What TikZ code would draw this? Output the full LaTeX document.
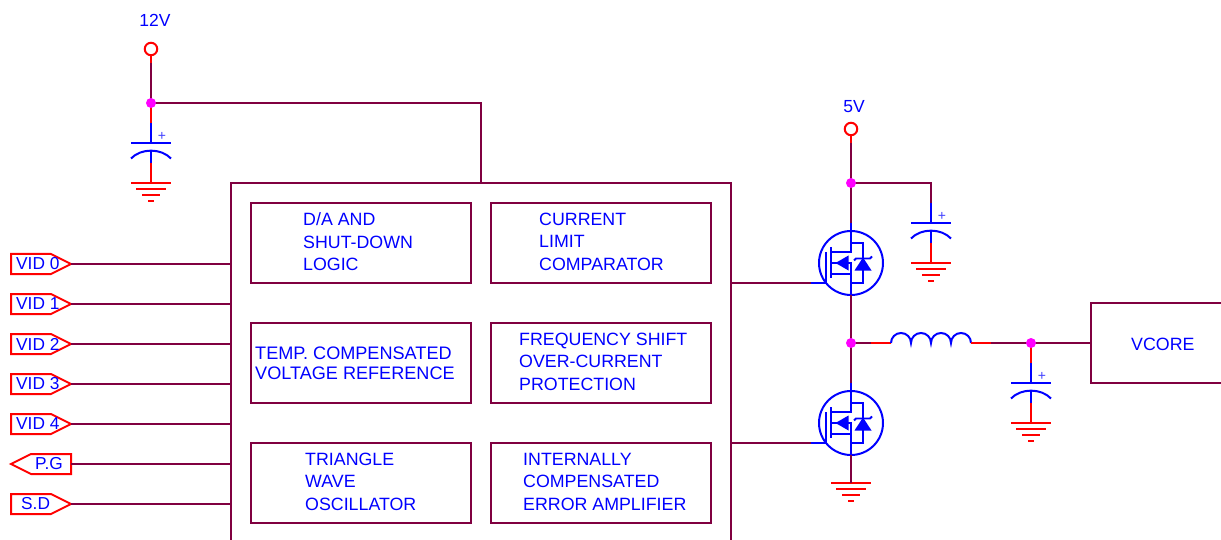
\documentclass[tikz,border=0pt]{standalone}
\usepackage{fontspec}
\setmainfont{Liberation Sans}
\definecolor{wire}{HTML}{800040}
\definecolor{pinred}{HTML}{FF0000}
\definecolor{partblue}{HTML}{0000FF}
\definecolor{dotmag}{HTML}{FF00FF}
\tikzset{
  wireline/.style={draw=wire,line width=1.9pt},
  redline/.style={draw=pinred,line width=2pt},
  blueline/.style={draw=partblue,line width=2pt},
  blockbox/.style={draw=wire,line width=1.9pt,outer sep=0pt},
  lab/.style={text=partblue,font=\fontsize{17.8}{22.5}\selectfont,inner sep=0pt,align=left,anchor=west},
  pinlab/.style={lab,font=\fontsize{17.3}{20}\selectfont},
  junction/.style={circle,fill=dotmag,inner sep=0pt,minimum size=10pt},
  pinhead/.style={circle,draw=pinred,line width=2pt,inner sep=0pt,minimum size=12.5pt,fill=white},
  capa/.pic={
    \coordinate (-top) at (0,-20);
    \coordinate (-bot) at (0,40);
    \draw[blueline] (0,-20)--(0,0);
    \draw[blueline] (-20,0)--(20,0);
    \draw[blueline] (-20,15.5) .. controls (-10,5) and (10,5) .. (20,15.5);
    \draw[blueline] (0,8)--(0,20);
    \draw[redline] (0,20)--(0,40);
    \node[text=partblue!75,font=\fontsize{14}{14}\selectfont,inner sep=0pt] (-plus) at (11,-7) {+};
  },
  gndsym/.pic={
    \coordinate (-top) at (0,0);
    \draw[redline] (-20,0)--(20,0);
    \draw[redline] (-15,6)--(15,6);
    \draw[redline] (-9,12)--(9,12);
    \draw[redline] (-3,18)--(3,18);
  },
  nmos/.pic={
    \coordinate (-d) at (0,-40);
    \coordinate (-s) at (0,32);
    \coordinate (-g) at (-40,20);
    \draw[blueline] (0,0) circle (32);
    \draw[blueline] (0,-40)--(0,-11)--(-20,-11);
    \draw[blueline] (-20,0)--(0,0)--(0,32);
    \draw[blueline] (0,11)--(-20,11);
    \draw[blueline] (-20,-16)--(-20,15);
    \draw[blueline] (-25,-11)--(-25,20)--(-40,20);
    \draw[blueline] (0,-20)--(12,-20)--(12,20)--(0,20);
    \fill[partblue] (-15.5,0)--(-2.5,-7.5)--(-2.5,7.5)--cycle;
    \fill[partblue] (12,-5.5)--(20.5,7.5)--(3.5,7.5)--cycle;
    \draw[partblue,line width=1.8pt] (3,-2.5)--(5,-4.5)--(19,-4.5)--(21,-6.5);
  }
}
\newcommand{\rpin}[4]{%
  \draw[redline,line join=miter,fill=white] (11,#2-10)--(51,#2-10)--(71,#2)--(51,#2+10)--(11,#2+10)--cycle;
  \coordinate (#1) at (71,#2);
  \node[pinlab] (#1t) at (#3,#2) {#4};
}
\begin{document}
\begin{tikzpicture}[x=1pt,y=-1pt]
\useasboundingbox (0,0) rectangle (1221,540);
\clip (0,0) rectangle (1221,540);
\fill[white] (0,0) rectangle (1221,540);

% main block
\node[blockbox,minimum width=500pt,minimum height=400pt,inner sep=0pt,anchor=north west] (main) at (231,183) {};
\coordinate (mainin) at (481,183);

% function blocks
\foreach \n/\x/\y in {a/251/203,b/491/203,c/251/323,d/491/323,e/251/443,f/491/443}
  \node[blockbox,minimum width=220pt,minimum height=80pt,inner sep=0pt,anchor=north west] (\n) at (\x,\y) {};
\node[lab] (at) at (303,241.7) {D/A AND\\SHUT-DOWN\\LOGIC};
\node[lab] (bt) at (539,241.7) {CURRENT\\LIMIT\\COMPARATOR};
\node[lab,font=\fontsize{18.1}{20}\selectfont] (ct) at (255,363.5) {TEMP. COMPENSATED\\VOLTAGE REFERENCE};
\node[lab] (dt) at (519,361.7) {FREQUENCY SHIFT\\OVER-CURRENT\\PROTECTION};
\node[lab] (et) at (305,481.7) {TRIANGLE\\WAVE\\OSCILLATOR};
\node[lab] (ft) at (523,481.7) {INTERNALLY\\COMPENSATED\\ERROR AMPLIFIER};

% left pins
\rpin{v0}{264}{16}{VID 0}
\rpin{v1}{304}{16}{VID 1}
\rpin{v2}{344}{16}{VID 2}
\rpin{v3}{384}{16}{VID 3}
\rpin{v4}{424}{16}{VID 4}
\draw[redline,fill=white] (71,454)--(31,454)--(11,464)--(31,474)--(71,474)--cycle;
\coordinate (pg) at (71,464);
\node[pinlab] (pgt) at (35,464) {P.G};
\rpin{sd}{504}{21}{S.D}
\foreach \p/\y in {v0/264,v1/304,v2/344,v3/384,v4/424,pg/464,sd/504}
  \draw[wireline] (\p) -- (231,\y);

% 12V rail
\node[text=partblue,font=\fontsize{17.5}{18}\selectfont,inner sep=0pt] (l12) at (155,20.5) {12V};
\node[pinhead] (p12) at (151,49) {};
\coordinate (p12w) at (151,63);
\coordinate (j12c) at (151,103);
\pic (c1) at (151,143) {capa};
\pic (g1) at (151,183) {gndsym};
\draw[redline] (p12) -- (p12w);
\draw[wireline] (p12w) -- (j12c);
\draw[wireline] (j12c) -| (mainin);
\draw[redline] (j12c) -- (c1-top);
\node[junction] (j12) at (j12c) {};

% 5V rail
\node[text=partblue,font=\fontsize{17.5}{18}\selectfont,inner sep=0pt] (l5) at (854,107) {5V};
\node[pinhead] (p5) at (851,129) {};
\coordinate (p5w) at (851,143);
\pic (q1) at (851,263) {nmos};
\pic (q2) at (851,423) {nmos};
\coordinate (j5c) at (851,183);
\coordinate (jsw) at (851,343);
\draw[redline] (p5) -- (p5w);
\draw[wireline] (p5w) -- (q1-d);
\pic (c2) at (931,223) {capa};
\pic (g2) at (931,263) {gndsym};
\draw[wireline] (j5c) -| (c2-top);
\node[junction] (j5) at (j5c) {};

% mosfet wires
\draw[wireline] (731,283) -- (q1-g);
\draw[wireline] (731,443) -- (q2-g);
\draw[wireline] (q1-s) -- (q2-d);
\pic (g3) at (851,483) {gndsym};
\draw[wireline] (q2-s) -- (g3-top);

% inductor and output
\coordinate (lw1) at (871,343);
\coordinate (li) at (891,343);
\coordinate (lo) at (971,343);
\coordinate (lw2) at (991,343);
\coordinate (jout) at (1031,343);
\draw[wireline] (jsw) -- (lw1);
\draw[redline] (lw1) -- (li);
\draw[blueline] (li) arc[start angle=180,end angle=360,radius=10]
  arc[start angle=180,end angle=360,radius=10]
  arc[start angle=180,end angle=360,radius=10]
  arc[start angle=180,end angle=360,radius=10];
\draw[redline] (lo) -- (lw2);
\node[blockbox,minimum width=160pt,minimum height=80pt,inner sep=0pt,anchor=north west] (vc) at (1091,303) {};
\node[lab] (vct) at (1131,344) {VCORE};
\draw[wireline] (lw2) -- (1091,343);
\pic (c3) at (1031,383) {capa};
\pic (g3b) at (1031,423) {gndsym};
\draw[redline] (jout) -- (c3-top);
\node[junction] (jo) at (jout) {};
\node[junction] (js) at (jsw) {};
\end{tikzpicture}
\end{document}
